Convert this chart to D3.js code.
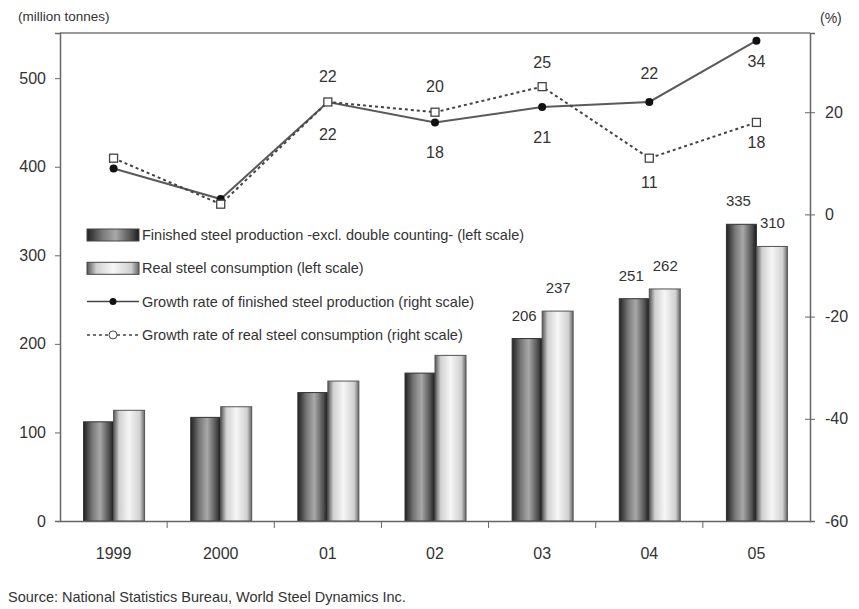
<!DOCTYPE html>
<html>
<head>
<meta charset="utf-8">
<script src="https://cdn.jsdelivr.net/npm/d3@7"></script>
<style>
body{margin:0;background:#fff;}
text{font-family:"Liberation Sans Narrow","Arial Narrow","Liberation Sans",sans-serif;fill:#333;}
</style>
</head>
<body>
<div id="plot"></div>
<script>
//Data;
const years=["1999","2000","01","02","03","04","05"];
const production=[112,117,145,167,206,251,335];
const consumption=[125,129,158,187,237,262,310];
const prodGrowth=[9,3,22,18,21,22,34];
const consGrowth=[11,2,22,20,25,11,18];
const leftTicks=[0,100,200,300,400,500];
const rightTicks=[-60,-40,-20,0,20];
const barLabelFrom=4; //labels shown for 03-05 only

const w=859,h=609;
const m={l:60,r:49,t:33,b:88};

const svg=d3.select("#plot").append("svg").attr("width",w).attr("height",h);

//Gradients;
const defs=svg.append("defs");
function grad(id,stops){
	const g=defs.append("linearGradient").attr("id",id).attr("x1","0%").attr("x2","100%");
	stops.forEach(function(s){ g.append("stop").attr("offset",s[0]).attr("stop-color",s[1]); });
}
grad("gDark",[["0%","#222"],["30%","#7a7a7a"],["55%","#a8a8a8"],["85%","#505050"],["100%","#1a1a1a"]]);
grad("gLight",[["0%","#555"],["18%","#d0d0d0"],["50%","#f6f6f6"],["85%","#d0d0d0"],["100%","#666"]]);

//Scales;
const x=d3.scaleBand().domain(years).range([m.l,w-m.r]).paddingInner(0).paddingOuter(0);
const yL=d3.scaleLinear().domain([0,551]).range([h-m.b,m.t]);
const yR=d3.scaleLinear().domain([-60,35.5]).range([h-m.b,m.t]);
const bw=30;
const cx=function(d,i){ return x(years[i])+x.bandwidth()/2; };

//Frame top;
svg.append("line").attr("x1",m.l).attr("x2",w-m.r).attr("y1",m.t).attr("y2",m.t).attr("stroke","#777").attr("stroke-width",1.5);

//Bars;
const g=svg.append("g");
g.selectAll(".p").data(production).enter().append("rect")
	.attr("x",function(d,i){ return cx(d,i)-bw; })
	.attr("y",function(d){ return yL(d); })
	.attr("width",bw).attr("height",function(d){ return yL(0)-yL(d); })
	.attr("fill","url(#gDark)").attr("stroke","#333").attr("stroke-width",1);
g.selectAll(".c").data(consumption).enter().append("rect")
	.attr("x",function(d,i){ return cx(d,i); })
	.attr("y",function(d){ return yL(d); })
	.attr("width",bw+1).attr("height",function(d){ return yL(0)-yL(d); })
	.attr("fill","url(#gLight)").attr("stroke","#555").attr("stroke-width",1);

//Bar labels;
years.forEach(function(yr,i){
	if(i<barLabelFrom) return;
	g.append("text").attr("x",cx(null,i)-bw/2-3).attr("y",yL(production[i])-18)
		.attr("text-anchor","middle").attr("font-size",15).text(production[i]);
	g.append("text").attr("x",cx(null,i)+bw/2+1).attr("y",yL(consumption[i])-18)
		.attr("text-anchor","middle").attr("font-size",15).text(consumption[i]);
});

//Lines;
const line=d3.line().x(cx).y(function(d){ return yR(d); });
svg.append("path").datum(prodGrowth).attr("d",line).attr("fill","none").attr("stroke","#5a5a5a").attr("stroke-width",2);
svg.append("path").datum(consGrowth).attr("d",line).attr("fill","none").attr("stroke","#444").attr("stroke-width",2).attr("stroke-dasharray","3,3");
svg.selectAll(".pm").data(prodGrowth).enter().append("circle")
	.attr("cx",cx).attr("cy",function(d){ return yR(d); }).attr("r",4).attr("fill","#111");
svg.selectAll(".cm").data(consGrowth).enter().append("rect")
	.attr("x",function(d,i){ return cx(d,i)-4; }).attr("y",function(d){ return yR(d)-4; })
	.attr("width",8).attr("height",8).attr("fill","#fff").attr("stroke","#444").attr("stroke-width",1.3);

//Line labels (from 01 on): offsets of baseline from point;
const consOff=[null,null,-20,-20,-19,30,26];
const prodOff=[null,null,38,36,36,-23,26];
years.forEach(function(yr,i){
	if(consOff[i]===null) return;
	svg.append("text").attr("x",cx(null,i)).attr("y",yR(consGrowth[i])+consOff[i])
		.attr("text-anchor","middle").attr("font-size",16).text(consGrowth[i]);
	svg.append("text").attr("x",cx(null,i)).attr("y",yR(prodGrowth[i])+prodOff[i])
		.attr("text-anchor","middle").attr("font-size",16).text(prodGrowth[i]);
});

//Axes;
const axL=svg.append("g").attr("transform","translate("+m.l+",0)")
	.call(d3.axisLeft(yL).tickValues(leftTicks).tickSize(5).tickPadding(9));
const axR=svg.append("g").attr("transform","translate("+(w-m.r)+",0)")
	.call(d3.axisRight(yR).tickValues(rightTicks).tickSize(5).tickPadding(10)
		.tickFormat(function(d){ return String(d); }));
axR.selectAll(".tick line").attr("x1",-5);
const axB=svg.append("g").attr("transform","translate(0,"+(h-m.b)+")")
	.call(d3.axisBottom(x).tickSize(0).tickPadding(27));
[axL,axR,axB].forEach(function(a){
	a.select(".domain").attr("stroke","#666").attr("stroke-width",1.5);
	a.selectAll(".tick line").attr("stroke","#666");
	a.selectAll("text").attr("font-size",16).attr("fill","#333")
		.style("font-family","'Liberation Sans Narrow','Liberation Sans',sans-serif");
});
//Category separators on x axis;
axB.selectAll(".sep").data(years.slice(1)).enter().append("line")
	.attr("x1",function(d){ return x(d); }).attr("x2",function(d){ return x(d); })
	.attr("y1",0).attr("y2",7).attr("stroke","#666");

//Axis titles;
svg.append("text").attr("x",18).attr("y",21).attr("font-size",13.5).text("(million tonnes)");
svg.append("text").attr("x",820).attr("y",23).attr("font-size",14).text("(%)");

//Legend;
const legend=[
	{type:"bar",fill:"url(#gDark)",label:"Finished steel production -excl. double counting- (left scale)"},
	{type:"bar",fill:"url(#gLight)",label:"Real steel consumption (left scale)"},
	{type:"lineP",label:"Growth rate of finished steel production (right scale)"},
	{type:"lineC",label:"Growth rate of real steel consumption (right scale)"}
];
const lg=svg.append("g").attr("transform","translate(87,235)");
legend.forEach(function(d,i){
	const it=lg.append("g").attr("transform","translate(0,"+(i*33.3)+")");
	if(d.type==="bar"){
		it.append("rect").attr("x",0).attr("y",-6).attr("width",52).attr("height",12)
			.attr("fill",d.fill).attr("stroke","#444");
	} else if(d.type==="lineP"){
		it.append("line").attr("x1",0).attr("x2",52).attr("y1",0).attr("y2",0).attr("stroke","#444").attr("stroke-width",1.5);
		it.append("circle").attr("cx",26).attr("cy",0).attr("r",3.5).attr("fill","#111");
	} else {
		it.append("line").attr("x1",0).attr("x2",52).attr("y1",0).attr("y2",0).attr("stroke","#444").attr("stroke-width",1.5).attr("stroke-dasharray","3,3");
		it.append("circle").attr("cx",26).attr("cy",0).attr("r",4).attr("fill","#fff").attr("stroke","#444");
	}
	it.append("text").attr("x",55).attr("y",5).attr("font-size",14.5).text(d.label);
});

//Source;
svg.append("text").attr("x",8).attr("y",602).attr("font-size",14.5).text("Source: National Statistics Bureau, World Steel Dynamics Inc.");
</script>
</body>
</html>
